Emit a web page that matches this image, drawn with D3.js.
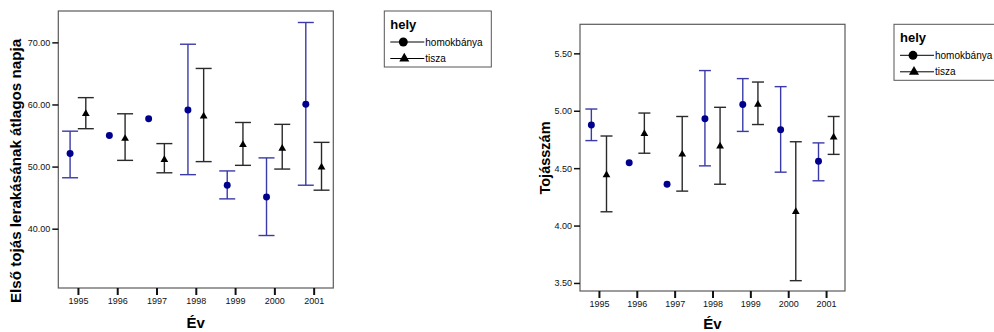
<!DOCTYPE html>
<html>
<head>
<meta charset="utf-8">
<script src="https://d3js.org/d3.v7.min.js"></script>
<style>
    body { margin: 0; background: #fff; }
    svg { display: block; font-family: "Liberation Sans", Arial, sans-serif; }
</style>
</head>
<body>
<svg id="chart" width="994" height="332"></svg>
<script>
// Years and the two sites (hely).
var years = [1995, 1996, 1997, 1998, 1999, 2000, 2001];
var siteNames = ["homokbánya", "tisza"];

// Left panel: first egg laying day (mean, error bar low / high).
var dayHomokMean = [52.1, 55.0, 57.7, 59.1, 47.0, 45.1, 60.05];
var dayHomokLow  = [48.2, null, null, 48.7, 44.8, 38.9, 47.0];
var dayHomokHigh = [55.7, null, null, 69.7, 49.3, 51.4, 73.2];
var dayTiszaMean = [58.5, 54.5, 51.1, 58.1, 53.5, 52.9, 49.9];
var dayTiszaLow  = [56.1, 51.0, 49.0, 50.8, 50.2, 49.6, 46.2];
var dayTiszaHigh = [61.1, 58.5, 53.7, 65.8, 57.1, 56.8, 53.9];
var dayTicks = [40, 50, 60, 70];

// Right panel: clutch size.
var eggHomokMean = [4.875, 4.547, 4.36, 4.93, 5.055, 4.834, 4.56];
var eggHomokLow  = [4.74, null, null, 4.52, 4.82, 4.465, 4.39];
var eggHomokHigh = [5.015, null, null, 5.35, 5.28, 5.21, 4.72];
var eggTiszaMean = [4.44, 4.80, 4.62, 4.69, 5.055, 4.12, 4.77];
var eggTiszaLow  = [4.12, 4.63, 4.30, 4.36, 4.88, 3.52, 4.62];
var eggTiszaHigh = [4.78, 4.98, 4.95, 5.03, 5.25, 4.73, 4.95];
var eggTicks = [3.5, 4.0, 4.5, 5.0, 5.5];

var blueBar = "#3a3aa8";
var bluePoint = "#00008f";
var blackBar = "#2a2a2a";

var svg = d3.select("#chart");

// Turn parallel arrays into point records for one site.
function series(site, offset, mean, low, high) {
    return years.map(function(y, i) {
        return { site: site, x: y + offset, mean: mean[i], low: low[i], high: high[i] };
    });
}

function drawPanel(p) {
    var g = svg.append("g");

    var x = d3.scaleLinear().domain([1994.5, 2001.5]).range([p.left, p.right]);
    var y = d3.scaleLinear().domain(p.yDomain).range([p.bottom, p.top]);

    // Plot frame.
    g.append("rect")
        .attr("x", p.left).attr("y", p.top)
        .attr("width", p.right - p.left).attr("height", p.bottom - p.top)
        .attr("fill", "none").attr("stroke", "#5a5a5a").attr("stroke-width", 1.2);

    var yAxis = g.append("g")
        .attr("transform", "translate(" + p.left + ",0)")
        .call(d3.axisLeft(y).tickValues(p.yTicks).tickFormat(d3.format(".2f")).tickSize(6).tickPadding(2));
    yAxis.select(".domain").remove();
    yAxis.selectAll("line").attr("stroke", "#111").attr("stroke-width", 1.5);
    yAxis.selectAll("text").attr("font-size", 9).attr("fill", "#111")
        .attr("font-family", "Liberation Sans, Arial, sans-serif");

    var xAxis = g.append("g")
        .attr("transform", "translate(0," + p.bottom + ")")
        .call(d3.axisBottom(x).tickValues(years).tickFormat(function(d) { return d; }).tickSize(7).tickPadding(3));
    xAxis.select(".domain").remove();
    xAxis.selectAll("line").attr("stroke", "#111").attr("stroke-width", 2);
    xAxis.selectAll("text").attr("font-size", 9).attr("fill", "#111")
        .attr("font-family", "Liberation Sans, Arial, sans-serif");

    // Axis titles.
    g.append("text")
        .attr("transform", "translate(" + p.yTitleX + "," + p.yTitleY + ") rotate(-90)")
        .attr("text-anchor", "middle")
        .attr("font-size", p.yTitleSize).attr("font-weight", "bold")
        .text(p.yTitle);
    g.append("text")
        .attr("x", (p.left + p.right) / 2).attr("y", p.xTitleY)
        .attr("text-anchor", "middle")
        .attr("font-size", 15).attr("font-weight", "bold")
        .text("Év");

    var pts = series(siteNames[0], -0.2, p.homok[0], p.homok[1], p.homok[2])
        .concat(series(siteNames[1], 0.2, p.tisza[0], p.tisza[1], p.tisza[2]));
    var withBars = pts.filter(function(d) { return d.low != null; });

    var bars = g.selectAll("g.bar").data(withBars).enter().append("g").attr("class", "bar")
        .attr("stroke", function(d) { return d.site === siteNames[0] ? blueBar : blackBar; })
        .attr("stroke-width", 1.4);
    bars.append("line")
        .attr("x1", function(d) { return x(d.x); }).attr("x2", function(d) { return x(d.x); })
        .attr("y1", function(d) { return y(d.low); }).attr("y2", function(d) { return y(d.high); });
    bars.append("line")
        .attr("x1", function(d) { return x(d.x) - p.cap; }).attr("x2", function(d) { return x(d.x) + p.cap; })
        .attr("y1", function(d) { return y(d.high); }).attr("y2", function(d) { return y(d.high); });
    bars.append("line")
        .attr("x1", function(d) { return x(d.x) - p.cap; }).attr("x2", function(d) { return x(d.x) + p.cap; })
        .attr("y1", function(d) { return y(d.low); }).attr("y2", function(d) { return y(d.low); });

    // Means: circle for homokbánya, triangle for tisza.
    g.selectAll("path.mean").data(pts).enter().append("path").attr("class", "mean")
        .attr("transform", function(d) { return "translate(" + x(d.x) + "," + y(d.mean) + ")"; })
        .attr("d", function(d) {
            return d.site === siteNames[0]
                ? d3.symbol().type(d3.symbolCircle).size(38)()
                : d3.symbol().type(d3.symbolTriangle).size(26)();
        })
        .attr("fill", function(d) { return d.site === siteNames[0] ? bluePoint : "#000"; });
}

function drawLegend(lx, ly) {
    var g = svg.append("g").attr("transform", "translate(" + lx + "," + ly + ")");
    g.append("rect").attr("width", 107).attr("height", 56)
        .attr("fill", "#fff").attr("stroke", "#555").attr("stroke-width", 1);
    g.append("text").attr("x", 6).attr("y", 18)
        .attr("font-size", 13).attr("font-weight", "bold").text("hely");
    var rows = g.selectAll("g.row").data(siteNames).enter().append("g").attr("class", "row")
        .attr("transform", function(d, i) { return "translate(0," + (31 + i * 16.5) + ")"; });
    rows.append("line").attr("x1", 6).attr("x2", 40).attr("stroke", "#000").attr("stroke-width", 1);
    rows.append("path")
        .attr("transform", function(d, i) { return "translate(" + (i === 0 ? 19 : 20) + ",0)"; })
        .attr("d", function(d, i) {
            return i === 0
                ? d3.symbol().type(d3.symbolCircle).size(62)()
                : d3.symbol().type(d3.symbolTriangle).size(44)();
        })
        .attr("fill", "#000");
    rows.append("text").attr("x", 41).attr("y", 3.5)
        .attr("font-size", 10).text(function(d) { return d; });
}

drawPanel({
    left: 58.3, right: 333.3, top: 11, bottom: 288,
    yDomain: [30.45, 75.05], yTicks: dayTicks, cap: 8,
    yTitle: "Első tojás lerakásának átlagos napja", yTitleSize: 15.2,
    yTitleX: 21, yTitleY: 171, xTitleY: 328,
    homok: [dayHomokMean, dayHomokLow, dayHomokHigh],
    tisza: [dayTiszaMean, dayTiszaLow, dayTiszaHigh]
});
drawLegend(384.3, 11);

drawPanel({
    left: 580, right: 845, top: 24.3, bottom: 291,
    yDomain: [3.43, 5.753], yTicks: eggTicks, cap: 6,
    yTitle: "Tojásszám", yTitleSize: 14.5,
    yTitleX: 550, yTitleY: 158, xTitleY: 329,
    homok: [eggHomokMean, eggHomokLow, eggHomokHigh],
    tisza: [eggTiszaMean, eggTiszaLow, eggTiszaHigh]
});
drawLegend(894, 24.3);
</script>
</body>
</html>
